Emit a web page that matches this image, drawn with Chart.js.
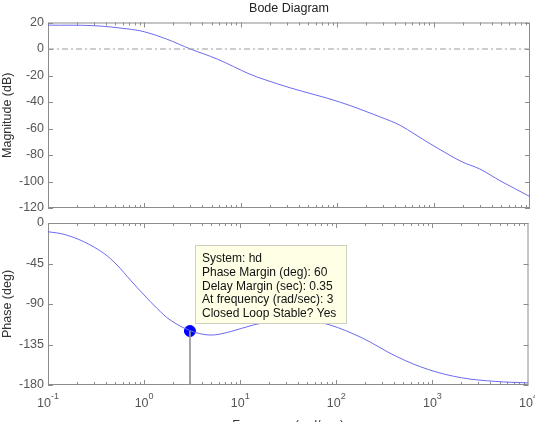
<!DOCTYPE html>
<html>
<head>
<meta charset="utf-8">
<script src="https://cdn.jsdelivr.net/npm/chart.js@4"></script>
<style>
  html, body { margin: 0; padding: 0; background: #fff; overflow: hidden; width: 535px; height: 422px; }
  #magBox { position: absolute; left: 0; top: 0; }
  #phaseBox { position: absolute; left: 0; top: 215px; }
</style>
</head>
<body>
<div id="magBox"><canvas id="magChart" width="535" height="215"></canvas></div>
<div id="phaseBox"><canvas id="phaseChart" width="535" height="222"></canvas></div>
<script>
// values
const magFreq = [0.1, 0.3, 0.66, 1, 1.7, 3, 5.7, 12.4, 18, 32.5, 106, 280, 450, 640, 920, 1380, 2000, 3000, 5000, 10000];
const magDb = [18, 17.6, 15.2, 13, 7.5, 0, -7.6, -19, -23.3, -29.3, -40, -51.3, -57.6, -64.4, -71.5, -79, -85.4, -90.5, -99.8, -111.4];

const phaseFreq = [0.1, 0.147, 0.236, 0.381, 0.523, 0.72, 1, 1.36, 1.87, 3, 4.87, 7.85, 13.7, 25, 45, 84, 185, 417, 918, 2020, 4500, 10000];
const phaseDeg = [-9.7, -12.6, -20.8, -33.7, -46.7, -63.4, -80, -94.8, -107.8, -119.5, -124.5, -120.8, -113.3, -108.5, -107.5, -113, -127.6, -148, -163, -172, -176, -177.7];

const marginFreq = 3;
const marginPhase = -120;

const freqTicks = [0.1, 1, 10, 100, 1000, 10000];
const magTicks = [-120, -100, -80, -60, -40, -20, 0, 20];
const phaseTicks = [-180, -135, -90, -45, 0];

const tipLines = [
  'System: hd',
  'Phase Margin (deg): 60',
  'Delay Margin (sec): 0.35',
  'At frequency (rad/sec): 3',
  'Closed Loop Stable? Yes'
];

const FONT = '"Liberation Sans", Arial, sans-serif';
Chart.defaults.font.family = FONT;
Chart.defaults.font.size = 12.5;
Chart.defaults.color = '#555';

const lineColor = '#6b6bef';
const frameColor = '#8c8c8c';

const pts = (xs, ys) => xs.map((x, i) => ({x: x, y: ys[i]}));

// MATLAB style box with inward ticks
const frame = {
  id: 'frame',
  beforeDatasetsDraw(chart) {
    const {ctx, chartArea: a, scales: {x, y}} = chart;
    ctx.save();
    ctx.strokeStyle = frameColor;
    ctx.lineWidth = 1;
    ctx.strokeRect(a.left + 0.5, a.top + 0.5, a.width - 1, a.height - 1);
    ctx.beginPath();
    for (let d = -1; d < 4; d++) {
      for (let m = 1; m <= 9; m++) {
        const px = Math.round(x.getPixelForValue(m * Math.pow(10, d))) + 0.5;
        const len = m === 1 ? 5 : 3;
        ctx.moveTo(px, a.top); ctx.lineTo(px, a.top + len);
        ctx.moveTo(px, a.bottom); ctx.lineTo(px, a.bottom - len);
      }
    }
    y.ticks.forEach(t => {
      const py = Math.round(y.getPixelForValue(t.value)) + 0.5;
      ctx.moveTo(a.left, py); ctx.lineTo(a.left + 5, py);
      ctx.moveTo(a.right, py); ctx.lineTo(a.right - 5, py);
    });
    ctx.stroke();
    ctx.restore();
  }
};

function yAxis(min, max, ticks, title) {
  return {
    min: min, max: max,
    afterBuildTicks: s => { s.ticks = ticks.map(v => ({value: v})); },
    grid: {display: false, drawTicks: false},
    border: {display: false},
    ticks: {color: '#555', padding: 4},
    title: {display: true, text: title, color: '#333', padding: {top: 0, bottom: 0}},
    afterFit: s => { s.width = 48; s.paddingTop = 0; s.paddingBottom = 0; }
  };
}

new Chart(document.getElementById('magChart'), {
  type: 'line',
  data: {
    datasets: [
      {
        data: [{x: 0.1, y: 0}, {x: 10000, y: 0}],
        borderColor: '#9a9a9a', borderWidth: 1, borderDash: [6, 3, 2, 3],
        pointRadius: 0
      },
      {
        label: 'hd',
        data: pts(magFreq, magDb),
        borderColor: lineColor, borderWidth: 1,
        tension: 0.35,
        pointRadius: 0
      }
    ]
  },
  options: {
    responsive: false,
    animation: false,
    layout: {padding: {left: 0, right: 5, top: 0, bottom: 7}},
    plugins: {
      legend: {display: false},
      tooltip: {enabled: false},
      title: {
        display: true, text: 'Bode Diagram', color: '#222', fullSize: false,
        font: {size: 12.5, weight: 'normal'}, padding: {top: 1, bottom: 6.5}
      }
    },
    scales: {
      x: {type: 'logarithmic', min: 0.1, max: 10000, display: false},
      y: yAxis(-120, 20, magTicks, 'Magnitude (dB)')
    }
  },
  plugins: [frame]
});

// decade labels with raised exponent, and the data tip
const phaseExtras = {
  id: 'phaseExtras',
  afterDraw(chart) {
    const {ctx, chartArea: a, scales: {x, y}} = chart;
    ctx.save();
    ctx.fillStyle = '#555';
    ctx.textBaseline = 'alphabetic';
    x.ticks.forEach(t => {
      const px = x.getPixelForValue(t.value);
      const exp = String(Math.round(Math.log10(t.value)));
      ctx.font = '12.5px ' + FONT;
      const w1 = ctx.measureText('10').width;
      ctx.font = '9px ' + FONT;
      const w2 = ctx.measureText(exp).width;
      const left = px - (w1 + w2) / 2;
      ctx.font = '12.5px ' + FONT;
      ctx.fillText('10', left, a.bottom + 22);
      ctx.font = '9px ' + FONT;
      ctx.fillText(exp, left + w1, a.bottom + 14);
    });

    const mx = x.getPixelForValue(marginFreq);
    const my = y.getPixelForValue(marginPhase);
    const bx = Math.round(mx + 5) + 0.5, by = Math.round(my - 86) + 0.5;
    ctx.fillStyle = '#ffffe6';
    ctx.strokeStyle = '#cfcfbf';
    ctx.lineWidth = 1;
    ctx.fillRect(bx, by, 151, 78);
    ctx.strokeRect(bx, by, 151, 78);
    ctx.fillStyle = '#111';
    ctx.font = '12px ' + FONT;
    tipLines.forEach((s, i) => ctx.fillText(s, bx + 6.5, by + 16.5 + i * 13.8));
    ctx.restore();
  }
};

new Chart(document.getElementById('phaseChart'), {
  type: 'line',
  data: {
    datasets: [
      {
        data: [{x: 0.1, y: -180}, {x: 10000, y: -180}],
        borderColor: '#8a8a8a', borderWidth: 1, borderDash: [6, 3, 2, 3],
        pointRadius: 0
      },
      {
        label: 'hd',
        data: pts(phaseFreq, phaseDeg),
        borderColor: lineColor, borderWidth: 1,
        tension: 0.35,
        pointRadius: 0
      },
      {
        data: [{x: marginFreq, y: marginPhase}, {x: marginFreq, y: -180}],
        borderColor: '#999', borderWidth: 1,
        pointRadius: 0
      },
      {
        data: [{x: marginFreq, y: marginPhase}],
        showLine: false,
        pointRadius: 5.5,
        pointBackgroundColor: '#0000ff',
        pointBorderColor: '#0000ff',
        clip: false
      }
    ]
  },
  options: {
    responsive: false,
    animation: false,
    layout: {padding: {left: 0, right: 5, top: 8, bottom: 0}},
    plugins: {legend: {display: false}, tooltip: {enabled: false}},
    scales: {
      x: {
        type: 'logarithmic', min: 0.1, max: 10000,
        afterBuildTicks: s => { s.ticks = freqTicks.map(v => ({value: v})); },
        grid: {display: false, drawTicks: false},
        border: {display: false},
        ticks: {display: false},
        title: {display: true, text: 'Frequency (rad/sec)', color: '#333', padding: {top: 0, bottom: 4}},
        afterFit: s => { s.height = 52; s.paddingLeft = 0; s.paddingRight = 0; }
      },
      y: yAxis(-180, 0, phaseTicks, 'Phase (deg)')
    }
  },
  plugins: [frame, phaseExtras]
});
</script>
</body>
</html>
